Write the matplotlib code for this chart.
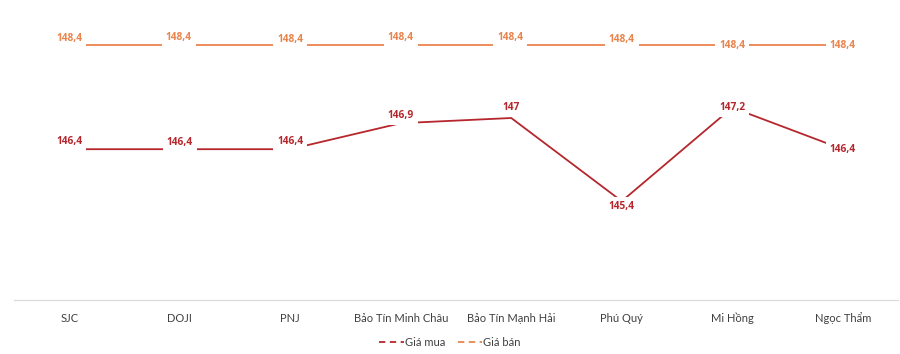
import matplotlib
matplotlib.use("Agg")
import matplotlib.pyplot as plt
from matplotlib.lines import Line2D

categories = ["SJC", "DOJI", "PNJ", "Bảo Tín Minh Châu", "Bảo Tín Mạnh Hải",
              "Phú Quý", "Mi Hồng", "Ngọc Thẩm"]
gia_mua = [146.4, 146.4, 146.4, 146.9, 147.0, 145.4, 147.2, 146.4]
gia_ban = [148.4, 148.4, 148.4, 148.4, 148.4, 148.4, 148.4, 148.4]
label_mua = ["146,4", "146,4", "146,4", "146,9", "147", "145,4", "147,2", "146,4"]
label_ban = ["148,4"] * 8

# label offsets in pixels (dx, dy)
off_mua = [(0, 8), (0, 7), (0, 8), (0, 8), (0, 10), (0, -5), (0, 0), (0, 0)]
off_ban = [(0, 6.5), (-1, 7.5), (0, 6), (0, 7.5), (-1, 8), (0, 6), (0, 0), (0, 0)]

c_mua = "#B5272D"
c_ban = "#E8844C"

plt.rcParams["font.family"] = ["Lato", "DejaVu Sans"]

fig = plt.figure(figsize=(9, 3.54), dpi=100)
ax = fig.add_axes([14 / 900, (354 - 300) / 354, 884 / 900, (300 - 14) / 354])
x = list(range(len(categories)))

ax.plot(x, gia_mua, color=c_mua, lw=1.3, zorder=2)
ax.plot(x, gia_ban, color=c_ban, lw=1.3, zorder=2)

px = 72 / 100
lab_font = ["Open Sans", "DejaVu Sans"]
for xi, v, lab, (dx, dy) in zip(x, gia_mua, label_mua, off_mua):
    ax.annotate(lab, (xi, v), xytext=(dx * px, dy * px), textcoords="offset points",
                ha="center", va="center", fontsize=7.3, fontweight="bold", color=c_mua,
                family=lab_font,
                bbox=dict(boxstyle="square,pad=0.38", fc="white", ec="none"), zorder=5)
for xi, v, lab, (dx, dy) in zip(x, gia_ban, label_ban, off_ban):
    ax.annotate(lab, (xi, v), xytext=(dx * px, dy * px), textcoords="offset points",
                ha="center", va="center", fontsize=7.3, fontweight="bold", color=c_ban,
                family=lab_font,
                bbox=dict(boxstyle="square,pad=0.38", fc="white", ec="none"), zorder=5)

ax.set_xlim(-0.5, 7.5)
ax.set_ylim(143.5, 149.0)
ax.set_xticks(x)
ax.set_xticklabels(categories, fontsize=8, color="#404040")
ax.tick_params(axis="x", length=0, pad=9)
ax.set_yticks([])
for s in ["top", "left", "right"]:
    ax.spines[s].set_visible(False)
ax.spines["bottom"].set_color("#D9D9D9")
ax.spines["bottom"].set_linewidth(0.8)

handles = [Line2D([0], [0], color=c_mua, lw=1.3, linestyle=(0, (3.5, 2.5))),
           Line2D([0], [0], color=c_ban, lw=1.3, linestyle=(0, (3.5, 2.5)))]
fig.legend(handles, ["Giá mua", "Giá bán"], loc="center", bbox_to_anchor=(0.5, 12 / 354),
           ncol=2, frameon=False, fontsize=8, handlelength=2.2, handletextpad=0.1,
           columnspacing=1.1, labelcolor="#404040")

fig.savefig("out.png", dpi=100)
